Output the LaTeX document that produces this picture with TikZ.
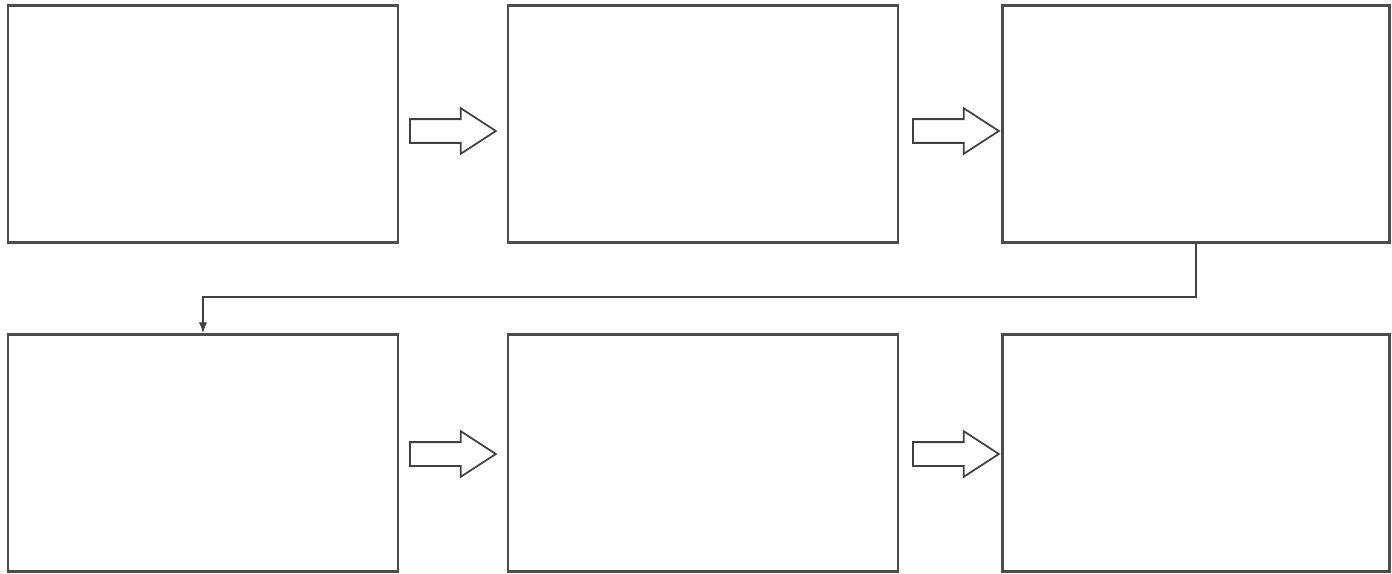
\documentclass[tikz,border=0pt]{standalone}
\usepackage{tikz}
\usetikzlibrary{shapes.arrows}

\begin{document}
\begin{tikzpicture}[
		x=0.02cm, y=-0.02cm,
		stage/.style={rectangle, draw=black!70, line width=1.5pt, minimum width=7.8cm, minimum height=4.74cm},
		flow/.style={single arrow, draw=black!75, line width=1pt, inner xsep=0pt, inner ysep=0.22cm,
			minimum height=1.72cm, single arrow head extend=0.22cm, single arrow tip angle=66, anchor=tail},
		link/.style={draw=black!75, line width=1.1pt, -latex}
	]
  \useasboundingbox (0,0) rectangle (1392,574);
  \node (s1) [stage] at (203,124) {};
  \node (s2) [stage] at (703,124) {};
  \node (s3) [stage, minimum width=7.74cm] at (1196,124) {};
  \node (s4) [stage] at (203,453) {};
  \node (s5) [stage] at (703,453) {};
  \node (s6) [stage, minimum width=7.74cm] at (1196,453) {};
  \node (f12) [flow] at (409,131) {};
  \node (f23) [flow] at (912,131) {};
  \node (f45) [flow] at (409,454) {};
  \node (f56) [flow] at (912,454) {};
  \coordinate (turn) at (0,297);
  \draw [link] (s3.south) -- (s3.south |- turn) -| (s4.north);
\end{tikzpicture}
\end{document}
